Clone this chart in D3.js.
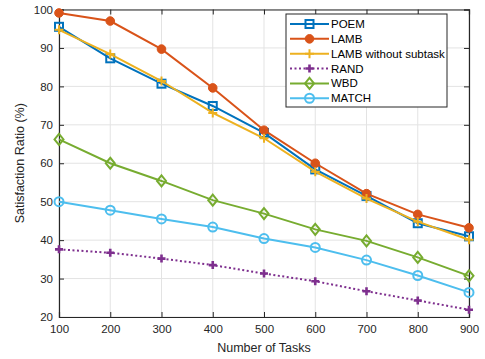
<!DOCTYPE html>
<html>
<head>
<meta charset="utf-8">
<script src="https://cdn.jsdelivr.net/npm/d3@7"></script>
<style>
  body { margin: 0; background: #fff; }
  text { font-family: "Liberation Sans", Arial, sans-serif; }
</style>
</head>
<body>
<div class="chart"></div>
<script>
// data
const tasks = [100, 200, 300, 400, 500, 600, 700, 800, 900];
const poem = [95.5, 87.3, 80.7, 74.9, 67.9, 58.4, 51.5, 44.4, 41.0];
const lamb = [99.1, 97.0, 89.7, 79.6, 68.6, 60.0, 52.1, 46.7, 43.2];
const lambNoSub = [94.7, 88.4, 81.4, 73.1, 66.5, 57.8, 50.8, 44.8, 40.1];
const rand = [37.6, 36.7, 35.2, 33.5, 31.3, 29.3, 26.7, 24.3, 21.9];
const wbd = [66.2, 60.0, 55.4, 50.4, 46.9, 42.8, 39.8, 35.5, 30.7];
const match = [50.0, 47.8, 45.5, 43.4, 40.4, 38.1, 34.8, 30.8, 26.4];
const yTicks = [20, 30, 40, 50, 60, 70, 80, 90, 100];

const series = [
  { name: "POEM", values: poem, color: "#0072BD", marker: "square", dash: null },
  { name: "LAMB", values: lamb, color: "#D95319", marker: "dot", dash: null },
  { name: "LAMB without subtask", values: lambNoSub, color: "#EDB120", marker: "plus", dash: null },
  { name: "RAND", values: rand, color: "#7E2F8E", marker: "plusBold", dash: "2,2.5" },
  { name: "WBD", values: wbd, color: "#77AC30", marker: "diamond", dash: null },
  { name: "MATCH", values: match, color: "#4DBEEE", marker: "circle", dash: null }
];

// margin convention
const margin = { top: 9.5, right: 16, bottom: 42, left: 59 };
const W = 485, H = 359;
const width = W - margin.left - margin.right,
  height = H - margin.top - margin.bottom;

const svg = d3.select(".chart")
  .append("svg")
  .attr("width", W)
  .attr("height", H);

const g = svg.append("g")
  .attr("transform", "translate(" + margin.left + "," + margin.top + ")");

const x = d3.scaleLinear().domain([100, 900]).range([0, width]);
const y = d3.scaleLinear().domain([20, 100]).range([height, 0]);

// grid
g.append("g").selectAll("line").data(tasks).join("line")
  .attr("x1", d => x(d)).attr("x2", d => x(d))
  .attr("y1", 0).attr("y2", height)
  .attr("stroke", "#e3e3e3").attr("stroke-width", 1);
g.append("g").selectAll("line").data(yTicks).join("line")
  .attr("y1", d => y(d)).attr("y2", d => y(d))
  .attr("x1", 0).attr("x2", width)
  .attr("stroke", "#e3e3e3").attr("stroke-width", 1);

// axes, ticks point inward
const axisColor = "#262626";
const xAxis = d3.axisBottom(x).tickValues(tasks).tickSize(-5).tickPadding(8);
const yAxis = d3.axisLeft(y).tickValues(yTicks).tickSize(-5).tickPadding(6);
const xAxisTop = d3.axisTop(x).tickValues(tasks).tickSize(-5).tickFormat("");
const yAxisRight = d3.axisRight(y).tickValues(yTicks).tickSize(-5).tickFormat("");

function styleAxis(sel) {
  sel.selectAll("path").attr("stroke", axisColor);
  sel.selectAll("line").attr("stroke", axisColor);
  sel.selectAll("text").attr("fill", axisColor).style("font-size", "11.5px");
}

g.append("g").attr("transform", "translate(0," + height + ")").call(xAxis).call(styleAxis);
g.append("g").call(yAxis).call(styleAxis);
g.append("g").call(xAxisTop).call(styleAxis);
g.append("g").attr("transform", "translate(" + width + ",0)").call(yAxisRight).call(styleAxis);
g.selectAll(".domain").attr("stroke-width", 1.2);

// axis labels
svg.append("text")
  .attr("x", margin.left + width / 2)
  .attr("y", 352)
  .attr("text-anchor", "middle")
  .attr("fill", axisColor)
  .style("font-size", "12.5px")
  .text("Number of Tasks");

svg.append("text")
  .attr("transform", "translate(24," + (margin.top + height / 2) + ") rotate(-90)")
  .attr("text-anchor", "middle")
  .attr("fill", axisColor)
  .style("font-size", "12.5px")
  .text("Satisfaction Ratio (%)");

// marker drawing
function drawMarker(sel, type, color) {
  if (type === "square") {
    sel.append("rect").attr("x", -4).attr("y", -4).attr("width", 8).attr("height", 8)
      .attr("fill", "none").attr("stroke", color).attr("stroke-width", 2);
  } else if (type === "dot") {
    sel.append("circle").attr("r", 4.3).attr("fill", color).attr("stroke", color);
  } else if (type === "circle") {
    sel.append("circle").attr("r", 4.5).attr("fill", "none").attr("stroke", color).attr("stroke-width", 2);
  } else if (type === "diamond") {
    sel.append("path").attr("d", "M0,-5.5L4.5,0L0,5.5L-4.5,0Z")
      .attr("fill", "none").attr("stroke", color).attr("stroke-width", 2);
  } else if (type === "plus" || type === "plusBold") {
    const s = type === "plus" ? 4.5 : 4;
    sel.append("path").attr("d", `M${-s},0H${s}M0,${-s}V${s}`)
      .attr("fill", "none").attr("stroke", color).attr("stroke-width", type === "plus" ? 2 : 2.6);
  }
}

const line = d3.line().x((d, i) => x(tasks[i])).y(d => y(d));

series.forEach(s => {
  g.append("path")
    .datum(s.values)
    .attr("d", line)
    .attr("fill", "none")
    .attr("stroke", s.color)
    .attr("stroke-width", 2)
    .attr("stroke-dasharray", s.dash);
  g.append("g").selectAll("g").data(s.values).join("g")
    .attr("transform", (d, i) => "translate(" + x(tasks[i]) + "," + y(d) + ")")
    .each(function () { drawMarker(d3.select(this), s.marker, s.color); });
});

// legend
const legend = svg.append("g").attr("transform", "translate(286,14)");
legend.append("rect")
  .attr("width", 161).attr("height", 93)
  .attr("fill", "#fff").attr("stroke", axisColor).attr("stroke-width", 1);

series.forEach((s, i) => {
  const row = legend.append("g").attr("transform", "translate(0," + (10 + i * 14.85) + ")");
  row.append("line")
    .attr("x1", 4).attr("x2", 43).attr("y1", 0).attr("y2", 0)
    .attr("stroke", s.color).attr("stroke-width", 2)
    .attr("stroke-dasharray", s.dash);
  drawMarker(row.append("g").attr("transform", "translate(23.5,0)"), s.marker, s.color);
  row.append("text")
    .attr("x", 45).attr("y", 4)
    .attr("fill", "#000")
    .style("font-size", "11.5px")
    .text(s.name);
});
</script>
</body>
</html>
